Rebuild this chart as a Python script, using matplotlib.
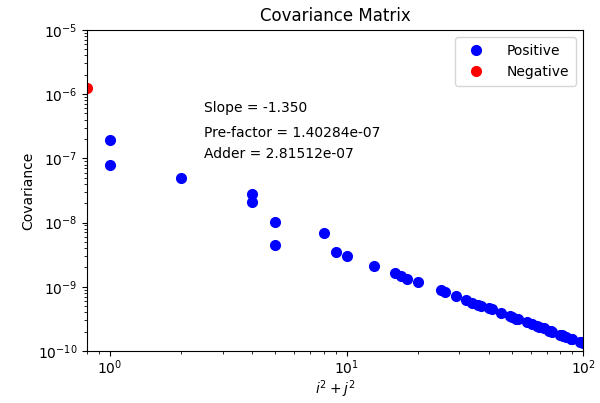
import numpy as np
import matplotlib
matplotlib.use('Agg')
import matplotlib.pyplot as plt

# i^2 + j^2 distances and covariance values (positive ones)
dist_pos = [1, 1, 2, 4, 4, 5, 5, 8, 9, 10, 13, 16, 17, 18, 20, 25, 26, 29,
            32, 34, 36, 37, 40, 41, 45, 49, 50, 52, 53, 58, 61, 64, 65, 68,
            72, 73, 74, 80, 81, 82, 85, 89, 90, 97, 98, 100]
cov_pos = [1.94e-7, 7.8e-8, 4.9e-8, 2.76e-8, 2.12e-8, 1.01e-8, 4.5e-9,
           6.9e-9, 3.45e-9, 3.0e-9, 2.11e-9, 1.62e-9, 1.47e-9, 1.34e-9,
           1.19e-9, 8.9e-10, 8.4e-10, 7.1e-10,
           6.2e-10, 5.6e-10, 5.2e-10, 5.0e-10, 4.6e-10, 4.45e-10, 3.95e-10,
           3.5e-10, 3.4e-10, 3.2e-10, 3.12e-10, 2.8e-10, 2.6e-10, 2.45e-10,
           2.4e-10, 2.25e-10, 2.08e-10, 2.04e-10, 2.0e-10, 1.8e-10, 1.77e-10,
           1.74e-10, 1.66e-10, 1.56e-10, 1.54e-10, 1.4e-10, 1.38e-10, 1.35e-10]

# the negative entry (plotted by magnitude)
dist_neg = [0.8]
cov_neg = [1.24e-6]

slope = -1.350
prefactor = 1.40284e-07
adder = 2.81512e-07

fig = plt.figure(figsize=(6, 4.03), dpi=100)
ax = fig.add_axes([0.145, 0.129, 0.827, 0.797])

ax.plot(dist_pos, cov_pos, 'bo', ms=7, label='Positive')
ax.plot(dist_neg, cov_neg, 'ro', ms=7, label='Negative')
ax.set_xscale('log')
ax.set_yscale('log')
ax.set_xlim(0.8, 100)
ax.set_ylim(1e-10, 1e-5)
ax.tick_params(axis='x', which='major', pad=2)
ax.set_xlabel('$i^2+j^2$', labelpad=1)
ax.set_ylabel('Covariance', labelpad=2)
ax.set_title('Covariance Matrix')
ax.legend(loc='upper right', numpoints=1, handletextpad=1.2, borderpad=0.5)

ax.text(0.236, 0.757, 'Slope = %.3f' % slope, transform=ax.transAxes, va='center')
ax.text(0.236, 0.679, 'Pre-factor = %.5e' % prefactor, transform=ax.transAxes, va='center')
ax.text(0.236, 0.614, 'Adder = %.5e' % adder, transform=ax.transAxes, va='center')

fig.savefig('out.png')
